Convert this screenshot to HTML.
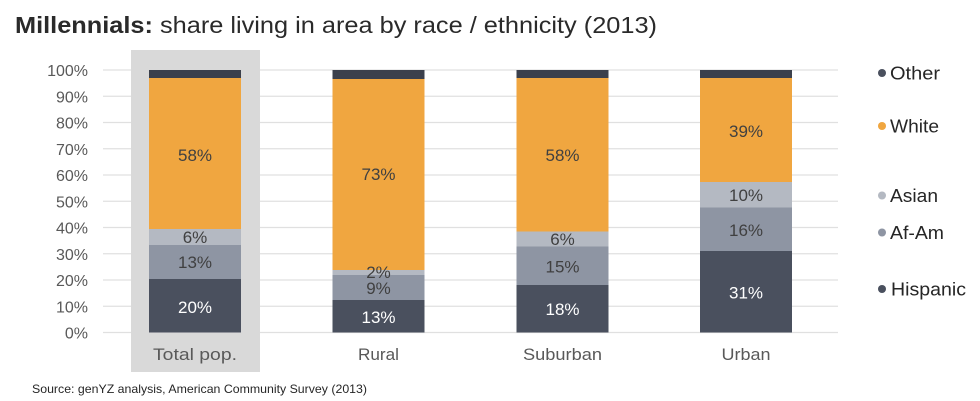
<!DOCTYPE html>
<html>
<head>
<meta charset="utf-8">
<style>
html,body{margin:0;padding:0;background:#fff;}
svg{display:block;}
text{font-family:"Liberation Sans","DejaVu Sans",sans-serif;}
</style>
</head>
<body>
<svg width="980" height="401" viewBox="0 0 980 401" xmlns="http://www.w3.org/2000/svg">
  <rect x="0" y="0" width="980" height="401" fill="#ffffff"/>
  <!-- Title -->
  <text x="15" y="33" font-size="23" fill="#2a2a2a" textLength="642" lengthAdjust="spacingAndGlyphs"><tspan font-weight="bold">Millennials:</tspan> share living in area by race / ethnicity (2013)</text>

  <!-- gridlines -->
  <g stroke="#e0e0e0" stroke-width="1.3">
    <line x1="103" x2="838" y1="70" y2="70"/>
    <line x1="103" x2="838" y1="96.25" y2="96.25"/>
    <line x1="103" x2="838" y1="122.5" y2="122.5"/>
    <line x1="103" x2="838" y1="148.75" y2="148.75"/>
    <line x1="103" x2="838" y1="175" y2="175"/>
    <line x1="103" x2="838" y1="201.25" y2="201.25"/>
    <line x1="103" x2="838" y1="227.5" y2="227.5"/>
    <line x1="103" x2="838" y1="253.75" y2="253.75"/>
    <line x1="103" x2="838" y1="280" y2="280"/>
    <line x1="103" x2="838" y1="306.25" y2="306.25"/>
    <line x1="103" x2="838" y1="332.5" y2="332.5"/>
  </g>

  <!-- tick labels -->
  <g font-size="16" fill="#595959" text-anchor="end">
    <text x="88" y="76">100%</text>
    <text x="88" y="102.5">90%</text>
    <text x="88" y="128.5">80%</text>
    <text x="88" y="155">70%</text>
    <text x="88" y="181">60%</text>
    <text x="88" y="207.5">50%</text>
    <text x="88" y="233.5">40%</text>
    <text x="88" y="260">30%</text>
    <text x="88" y="286">20%</text>
    <text x="88" y="312.5">10%</text>
    <text x="88" y="338.5">0%</text>
  </g>

  <!-- highlight -->
  <rect x="131" y="50" width="129" height="322" fill="#d9d9d9"/>

  <!-- Total pop. -->
  <rect x="149" y="70" width="92" height="8" fill="#3b404c"/>
  <rect x="149" y="78" width="92" height="151" fill="#f0a640"/>
  <rect x="149" y="229" width="92" height="16" fill="#b4b9c2"/>
  <rect x="149" y="245" width="92" height="34" fill="#8e95a3"/>
  <rect x="149" y="279" width="92" height="53.5" fill="#4a505e"/>

  <!-- Rural -->
  <rect x="332.5" y="70" width="92" height="9" fill="#3b404c"/>
  <rect x="332.5" y="79" width="92" height="191" fill="#f0a640"/>
  <rect x="332.5" y="270" width="92" height="5" fill="#b4b9c2"/>
  <rect x="332.5" y="275" width="92" height="25" fill="#8e95a3"/>
  <rect x="332.5" y="300" width="92" height="32.5" fill="#4a505e"/>

  <!-- Suburban -->
  <rect x="516.5" y="70" width="92" height="8" fill="#3b404c"/>
  <rect x="516.5" y="78" width="92" height="153.5" fill="#f0a640"/>
  <rect x="516.5" y="231.5" width="92" height="15" fill="#b4b9c2"/>
  <rect x="516.5" y="246.5" width="92" height="38.5" fill="#8e95a3"/>
  <rect x="516.5" y="285" width="92" height="47.5" fill="#4a505e"/>

  <!-- Urban -->
  <rect x="700" y="70" width="92" height="8" fill="#3b404c"/>
  <rect x="700" y="78" width="92" height="104" fill="#f0a640"/>
  <rect x="700" y="182" width="92" height="25.5" fill="#b4b9c2"/>
  <rect x="700" y="207.5" width="92" height="43.5" fill="#8e95a3"/>
  <rect x="700" y="251" width="92" height="81.5" fill="#4a505e"/>

  <!-- bar labels -->
  <g font-size="17" fill="#404040" text-anchor="middle">
    <text x="195" y="161">58%</text>
    <text x="195" y="243">6%</text>
    <text x="195" y="268">13%</text>
    <text x="195" y="313" fill="#ffffff">20%</text>

    <text x="378.5" y="180">73%</text>
    <text x="378.5" y="278">2%</text>
    <text x="378.5" y="294">9%</text>
    <text x="378.5" y="323" fill="#ffffff">13%</text>

    <text x="562.5" y="161">58%</text>
    <text x="562.5" y="245">6%</text>
    <text x="562.5" y="272.5">15%</text>
    <text x="562.5" y="315" fill="#ffffff">18%</text>

    <text x="746" y="137">39%</text>
    <text x="746" y="201">10%</text>
    <text x="746" y="236">16%</text>
    <text x="746" y="298.5" fill="#ffffff">31%</text>
  </g>

  <!-- category labels -->
  <g font-size="17" fill="#595959" text-anchor="middle">
    <text x="195" y="360" textLength="84" lengthAdjust="spacingAndGlyphs">Total pop.</text>
    <text x="378.5" y="360" textLength="41" lengthAdjust="spacingAndGlyphs">Rural</text>
    <text x="562.5" y="360" textLength="79" lengthAdjust="spacingAndGlyphs">Suburban</text>
    <text x="746" y="360" textLength="49" lengthAdjust="spacingAndGlyphs">Urban</text>
  </g>

  <!-- legend -->
  <circle cx="882" cy="73" r="4" fill="#4a505e"/>
  <circle cx="882" cy="126" r="4" fill="#f0a640"/>
  <circle cx="882" cy="195.5" r="4" fill="#b4b9c2"/>
  <circle cx="882" cy="232.5" r="4" fill="#8e95a3"/>
  <circle cx="882" cy="289" r="4" fill="#4a505e"/>
  <g font-size="18" fill="#262626">
    <text x="890" y="79.5" textLength="50" lengthAdjust="spacingAndGlyphs">Other</text>
    <text x="890" y="132.5" textLength="49" lengthAdjust="spacingAndGlyphs">White</text>
    <text x="890" y="202" textLength="48" lengthAdjust="spacingAndGlyphs">Asian</text>
    <text x="890" y="239" textLength="54" lengthAdjust="spacingAndGlyphs">Af-Am</text>
    <text x="891" y="295.5" textLength="75" lengthAdjust="spacingAndGlyphs">Hispanic</text>
  </g>

  <!-- source -->
  <text x="32" y="393" font-size="12" fill="#262626" textLength="335" lengthAdjust="spacingAndGlyphs">Source: genYZ analysis, American Community Survey (2013)</text>
</svg>
</body>
</html>
